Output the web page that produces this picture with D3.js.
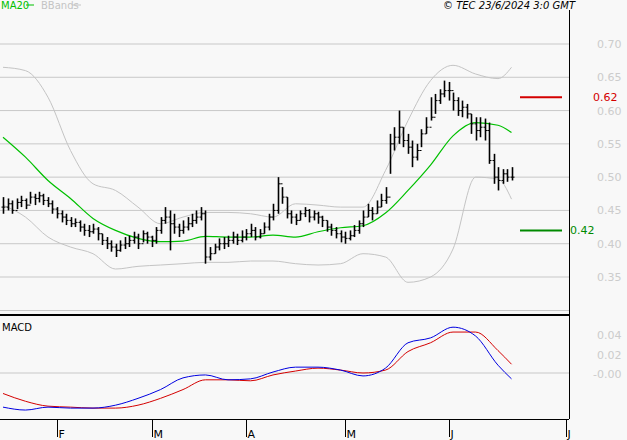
<!DOCTYPE html>
<html><head><meta charset="utf-8">
<script src="https://cdn.jsdelivr.net/npm/d3@7"></script>
<style>body{margin:0;background:#f8f8f8}svg{display:block;font-family:"DejaVu Sans",sans-serif}</style>
</head><body><div id="chart"></div>
<script>
// daily bars, 16 Jan - 21 Jun 2024 (trading days)
var closes = [.455,.46,.45,.462,.465,.458,.47,.468,.472,.465,.46,.452,.445,.44,.435,.43,.432,.425,.42,.418,.422,.415,.405,.40,.395,.39,.398,.40,.405,.41,.40,.415,.41,.405,.42,.435,.44,.43,.425,.42,.425,.43,.435,.44,.445,.38,.385,.395,.40,.40,.405,.41,.405,.41,.415,.42,.41,.415,.425,.44,.45,.49,.47,.445,.44,.435,.445,.45,.44,.445,.44,.435,.425,.42,.415,.41,.408,.412,.42,.43,.44,.45,.445,.455,.465,.47,.55,.56,.575,.555,.545,.53,.54,.565,.575,.59,.615,.625,.63,.63,.615,.60,.605,.595,.58,.57,.575,.57,.525,.50,.495,.505,.50,.50];
var highs = [.47,.468,.465,.468,.472,.468,.478,.475,.478,.475,.47,.465,.455,.45,.445,.44,.438,.435,.43,.428,.43,.425,.415,.41,.405,.40,.405,.41,.412,.418,.415,.42,.418,.412,.425,.44,.455,.45,.445,.43,.435,.44,.445,.45,.455,.45,.395,.40,.408,.41,.412,.418,.415,.42,.422,.43,.425,.422,.432,.445,.46,.50,.485,.47,.45,.445,.45,.455,.452,.45,.448,.442,.435,.43,.425,.42,.418,.42,.428,.435,.45,.46,.455,.465,.475,.485,.565,.575,.60,.575,.565,.555,.55,.572,.59,.62,.625,.632,.645,.643,.627,.62,.615,.61,.595,.59,.59,.588,.582,.535,.515,.512,.512,.515];
var lows = [.445,.45,.445,.452,.455,.452,.46,.458,.462,.458,.455,.445,.438,.432,.428,.425,.425,.418,.412,.41,.415,.405,.398,.392,.388,.38,.388,.392,.395,.40,.392,.402,.40,.395,.40,.415,.43,.39,.415,.41,.415,.42,.425,.43,.435,.37,.375,.385,.39,.392,.395,.40,.398,.402,.405,.41,.405,.408,.415,.42,.435,.445,.46,.438,.43,.428,.435,.44,.432,.435,.43,.425,.418,.412,.408,.402,.40,.405,.41,.415,.425,.44,.435,.445,.455,.46,.505,.54,.55,.545,.535,.515,.525,.545,.565,.585,.595,.61,.62,.615,.60,.592,.59,.588,.565,.555,.56,.555,.52,.49,.48,.49,.493,.495];

// indicators, read every 5 trading days (last point = day 113)
var indIdx = [0,5,10,15,20,25,30,35,40,45,50,55,60,65,70,75,80,85,90,95,100,105,110,113];
var ma20 = [.56,.53,.495,.468,.438,.42,.408,.403,.404,.411,.41,.41,.413,.41,.418,.424,.427,.446,.48,.518,.562,.582,.578,.567];
var bbUp = [.665,.66,.62,.54,.49,.48,.455,.43,.44,.447,.447,.445,.44,.46,.458,.455,.455,.51,.585,.645,.668,.655,.648,.665];
var bbLo = [.458,.44,.41,.395,.385,.362,.366,.368,.37,.372,.372,.374,.374,.37,.368,.37,.385,.38,.342,.35,.392,.5,.497,.467];
var macd = [-.035,-.038,-.035,-.036,-.036,-.033,-.026,-.017,-.005,-.002,-.007,-.006,.001,.006,.006,.003,-.003,.005,.031,.036,.047,.038,.008,-.006];
var signal = [-.021,-.029,-.034,-.035,-.036,-.036,-.033,-.026,-.017,-.007,-.007,-.008,-.002,.002,.005,.003,0,.003,.022,.031,.042,.042,.023,.009];

var priceTicks = [0.35,0.40,0.45,0.50,0.55,0.60,0.65,0.70];
var macdTicks = [0.04,0.02,0.00];
var monthLabels = ["F","M","A","M","J","J"];
var monthIdx = [12,33,54,76,99,125];
var levels = [{v:0.62,c:"#d40000",lx:593},{v:0.42,c:"#008a00",lx:570}];

var W = 627, H = 440, right = 569;
var svg = d3.select("#chart").append("svg").attr("width", W).attr("height", H);
svg.append("rect").attr("width", W).attr("height", H).attr("fill", "#f8f8f8");

var x = d3.scaleLinear().domain([0,125]).range([3,565.5]);
var y = d3.scaleLinear().domain([0.35,0.70]).range([277,44]);
var ym = d3.scaleLinear().domain([0,0.04]).range([373,334]);

// grid + price labels
priceTicks.forEach(function(t){
  svg.append("line").attr("x1",0).attr("x2",right).attr("y1",y(t)).attr("y2",y(t)).attr("stroke","#c8c8c8");
  svg.append("text").attr("x",597).attr("y",y(t)+4).attr("font-size",11).attr("fill","#cccccc").text(t.toFixed(2));
});

function ind(arr, sc){
  return d3.line().x(function(d,i){ return x(indIdx[i]); }).y(function(d){ return sc(d); }).curve(d3.curveMonotoneX)(arr);
}
svg.append("path").attr("d",ind(bbUp,y)).attr("fill","none").attr("stroke","#c4c4c4");
svg.append("path").attr("d",ind(bbLo,y)).attr("fill","none").attr("stroke","#c4c4c4");
svg.append("path").attr("d",ind(ma20,y)).attr("fill","none").attr("stroke","#00c000").attr("stroke-width",1.2);

// OHLC bars (open = previous close)
var g = svg.append("g").attr("stroke","#000");
closes.forEach(function(c,i){
  var o = i ? closes[i-1] : c, xi = Math.round(x(i)) + 0.5;
  g.append("line").attr("x1",xi).attr("x2",xi).attr("y1",y(highs[i])).attr("y2",y(lows[i])).attr("stroke-width",1.6);
  g.append("line").attr("x1",xi-2).attr("x2",xi).attr("y1",y(o)).attr("y2",y(o));
  g.append("line").attr("x1",xi).attr("x2",xi+2).attr("y1",y(c)).attr("y2",y(c));
});

// support / resistance levels
levels.forEach(function(l){
  svg.append("line").attr("x1",520).attr("x2",562).attr("y1",y(l.v)).attr("y2",y(l.v)).attr("stroke",l.c).attr("stroke-width",2);
  svg.append("text").attr("x",l.lx).attr("y",y(l.v)+4).attr("font-size",11).attr("fill",l.c).text(l.v.toFixed(2));
});

// panel separators
svg.append("line").attr("x1",0).attr("x2",right).attr("y1",310.5).attr("y2",310.5).attr("stroke","#c8c8c8");
svg.append("line").attr("x1",0).attr("x2",right).attr("y1",315).attr("y2",315).attr("stroke","#000").attr("stroke-width",2);

// MACD panel
svg.append("line").attr("x1",0).attr("x2",right).attr("y1",ym(0)).attr("y2",ym(0)).attr("stroke","#c8c8c8");
macdTicks.forEach(function(t){
  svg.append("text").attr("x",t ? 597 : 593).attr("y",ym(t)+5).attr("font-size",11).attr("fill","#cccccc").text((t ? "" : "-") + t.toFixed(2));
});
svg.append("path").attr("d",ind(signal,ym)).attr("fill","none").attr("stroke","#d40000");
svg.append("path").attr("d",ind(macd,ym)).attr("fill","none").attr("stroke","#0000e0");
svg.append("text").attr("x",2).attr("y",331).attr("font-size",10).attr("fill","#000").text("MACD");
svg.append("line").attr("x1",0).attr("x2",right).attr("y1",419.5).attr("y2",419.5).attr("stroke","#000");

// right axis
svg.append("line").attr("x1",right+0.5).attr("x2",right+0.5).attr("y1",10).attr("y2",419).attr("stroke","#000");

// month ticks
monthIdx.forEach(function(m,i){
  var xm = Math.round(x(m)) + 0.5;
  svg.append("line").attr("x1",xm).attr("x2",xm).attr("y1",419).attr("y2",437).attr("stroke","#000");
  svg.append("text").attr("x",xm+1).attr("y",438).attr("font-size",11).attr("fill","#000").text(monthLabels[i]);
});

// legend + credit
svg.append("text").attr("x",1).attr("y",9).attr("font-size",10).attr("fill","#00c000").text("MA20");
svg.append("line").attr("x1",26).attr("x2",34).attr("y1",5).attr("y2",5).attr("stroke","#00c000");
svg.append("text").attr("x",41).attr("y",9).attr("font-size",10).attr("fill","#c4c4c4").text("BBands");
svg.append("line").attr("x1",72).attr("x2",81).attr("y1",5).attr("y2",5).attr("stroke","#c4c4c4");
svg.append("text").attr("x",575).attr("y",9).attr("text-anchor","end").attr("font-size",10).attr("font-style","italic").attr("fill","#000").text("© TEC 23/6/2024 3:0 GMT");
</script></body></html>
